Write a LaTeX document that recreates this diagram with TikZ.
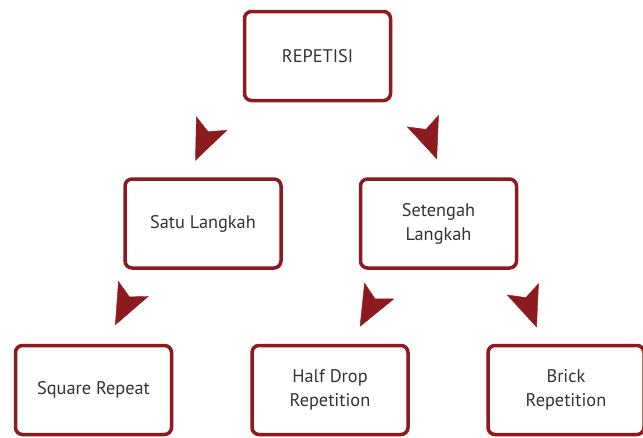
\documentclass[tikz,border=0pt]{standalone}
\usepackage{fontspec}
\setmainfont{PT Sans}
\usetikzlibrary{arrows.meta, decorations.markings}

\definecolor{boxred}{RGB}{140,26,30}
\definecolor{textgray}{RGB}{51,51,51}

\begin{document}
\begin{tikzpicture}[x=1pt, y=1pt,
        box/.style={draw=boxred, line width=3.5pt, rounded corners=7pt,
            fill=white, text=textgray, align=center,
            minimum width=156pt, minimum height=89pt,
            font=\fontsize{18.3}{24}\selectfont},
        tipmark/.style={decorate, decoration={markings,
            mark=at position #1 with {\arrow[boxred]{Stealth[length=41pt, width=34pt, inset=9pt]}}}}]
    \useasboundingbox (0,0) rectangle (643,-437);

    % Top node
    \node[box, minimum width=146pt] (rep) at (317.5,-56) {REPETISI};

    % Middle row
    \node[box] (satu) at (203,-223.5) {Satu Langkah};
    \node[box] (seten) at (438.5,-223.5) {Setengah\\Langkah};

    % Bottom row
    \node[box] (sq) at (93.5,-390) {Square Repeat};
    \node[box] (half) at (330,-390) {Half Drop\\Repetition};
    \node[box] (brick) at (566,-390) {Brick\\Repetition};

    % Arrow heads, top -> middle
    \path[tipmark=0.78] ([xshift=-96.5pt]rep.south) -- ([xshift=-15pt]satu.north);
    \path[tipmark=0.76] ([xshift=98.5pt]rep.south) -- ([xshift=5pt]seten.north);

    % Arrow heads, middle -> bottom
    \path[tipmark=0.75] ([xshift=-60pt]satu.south) -- ([xshift=12.3pt]sq.north);
    \path[tipmark=0.77] ([xshift=-47.8pt]seten.south) -- ([xshift=20.6pt]half.north);
    \path[tipmark=0.78] ([xshift=77.3pt]seten.south) -- ([xshift=-23.4pt]brick.north);
\end{tikzpicture}
\end{document}
